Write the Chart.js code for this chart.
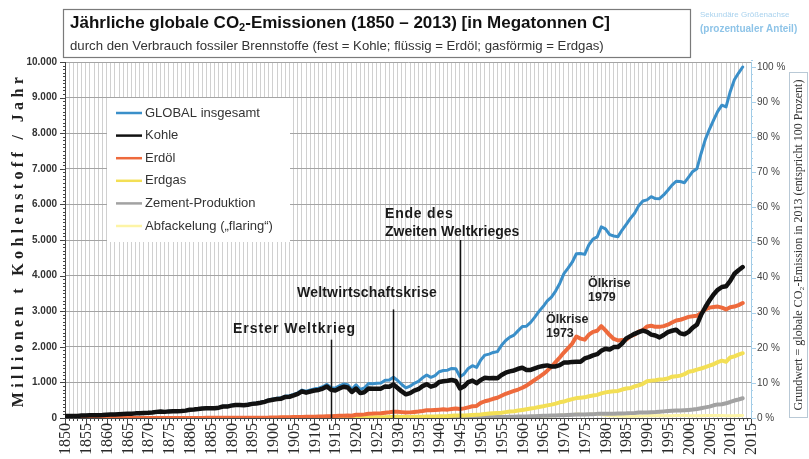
<!DOCTYPE html>
<html>
<head>
<meta charset="utf-8">
<script src="https://cdn.jsdelivr.net/npm/chart.js@4.4.1/dist/chart.umd.min.js"></script>
<style>
  html, body { margin: 0; padding: 0; background: #fff; }
  #wrap { width: 809px; height: 459px; }
</style>
</head>
<body>
<div id="wrap"><canvas id="chart" width="809" height="459"></canvas></div>
<script>
// years 1850 .. 2013
const years = Array.from({ length: 164 }, (_, i) => 1850 + i);

// Megatonnen Kohlenstoff pro Jahr
const globalTotal = [
  54, 54, 57, 59, 69, 71, 76, 77, 78, 83,
  91, 95, 97, 104, 112, 119, 122, 130, 135, 142,
  147, 156, 173, 184, 174, 188, 191, 194, 196, 210,
  236, 243, 256, 272, 275, 277, 281, 295, 327, 327,
  356, 372, 374, 370, 383, 406, 419, 440, 465, 507,
  534, 552, 566, 617, 624, 663, 707, 784, 750, 785,
  819, 836, 879, 943, 850, 838, 901, 955, 936, 806,
  932, 803, 845, 970, 963, 975, 983, 1062, 1065, 1145,
  1053, 940, 847, 893, 973, 1027, 1130, 1209, 1142, 1192,
  1299, 1334, 1342, 1391, 1383, 1160, 1238, 1392, 1469, 1419,
  1630, 1767, 1795, 1841, 1865, 2042, 2177, 2270, 2330, 2454,
  2569, 2580, 2686, 2833, 2995, 3130, 3288, 3393, 3566, 3780,
  4053, 4208, 4376, 4614, 4623, 4596, 4864, 5026, 5087, 5369,
  5315, 5152, 5113, 5094, 5280, 5439, 5607, 5752, 5965, 6097,
  6127, 6217, 6164, 6162, 6266, 6398, 6542, 6651, 6643, 6610,
  6765, 6927, 7003, 7431, 7819, 8110, 8365, 8611, 8787, 8740,
  9167, 9500, 9690, 9860
];

const coal = [
  54, 54, 57, 59, 69, 71, 76, 77, 78, 83,
  91, 95, 97, 104, 112, 119, 122, 130, 135, 142,
  146, 155, 172, 182, 172, 186, 189, 192, 194, 207,
  233, 240, 253, 269, 271, 273, 276, 290, 322, 321,
  348, 364, 365, 361, 374, 397, 409, 429, 454, 493,
  515, 532, 543, 592, 597, 633, 676, 749, 712, 745,
  774, 789, 828, 887, 790, 774, 831, 878, 857, 731,
  827, 700, 725, 830, 820, 822, 825, 888, 876, 940,
  845, 745, 665, 700, 768, 808, 895, 950, 880, 915,
  1010, 1030, 1045, 1070, 1040, 830, 890, 1010, 1050, 980,
  1070, 1129, 1119, 1125, 1116, 1208, 1273, 1309, 1336, 1382,
  1410, 1349, 1351, 1396, 1435, 1460, 1478, 1448, 1448, 1486,
  1556, 1559, 1576, 1581, 1579, 1673, 1710, 1760, 1793, 1887,
  1947, 1921, 1992, 1995, 2094, 2237, 2300, 2364, 2414, 2457,
  2419, 2343, 2318, 2265, 2331, 2414, 2451, 2480, 2376, 2352,
  2420, 2540, 2620, 2900, 3110, 3300, 3470, 3600, 3680, 3700,
  3850, 4050, 4150, 4240
];

const oil = [
  0, 0, 0, 0, 0, 0, 0, 0, 0, 0,
  0, 0, 0, 0, 0, 0, 0, 0, 0, 0,
  1, 1, 1, 2, 2, 2, 2, 2, 2, 3,
  3, 3, 3, 3, 4, 4, 5, 5, 5, 6,
  6, 6, 7, 7, 7, 7, 8, 9, 9, 11,
  16, 17, 19, 21, 23, 25, 26, 29, 32, 34,
  38, 40, 43, 48, 52, 55, 60, 66, 68, 64,
  92, 90, 102, 120, 123, 130, 135, 148, 160, 175,
  175, 165, 152, 158, 170, 180, 195, 215, 215, 225,
  235, 245, 235, 250, 265, 255, 270, 300, 330, 340,
  423, 470, 500, 540, 570, 625, 680, 720, 760, 800,
  849, 910, 990, 1070, 1150, 1230, 1330, 1440, 1570, 1700,
  1839, 1960, 2090, 2290, 2230, 2200, 2340, 2420, 2450, 2580,
  2460, 2330, 2220, 2180, 2190, 2200, 2300, 2340, 2430, 2470,
  2570, 2590, 2560, 2560, 2580, 2620, 2680, 2740, 2760, 2800,
  2840, 2860, 2870, 2950, 3050, 3100, 3120, 3130, 3100, 3050,
  3110, 3130, 3170, 3230
];

const gas = [
  0, 0, 0, 0, 0, 0, 0, 0, 0, 0,
  0, 0, 0, 0, 0, 0, 0, 0, 0, 0,
  0, 0, 0, 0, 0, 0, 0, 0, 0, 0,
  0, 0, 0, 0, 0, 1, 1, 1, 1, 1,
  2, 2, 2, 2, 2, 2, 3, 3, 3, 3,
  3, 3, 4, 4, 4, 5, 5, 6, 6, 6,
  7, 7, 8, 8, 8, 9, 10, 11, 11, 11,
  12, 12, 14, 16, 18, 20, 22, 24, 26, 30,
  32, 30, 29, 30, 32, 35, 38, 42, 42, 45,
  48, 52, 55, 62, 68, 72, 72, 78, 85, 90,
  97, 115, 125, 132, 140, 150, 165, 180, 190, 210,
  227, 245, 265, 285, 310, 330, 355, 375, 405, 440,
  462, 500, 530, 560, 570, 580, 610, 630, 650, 690,
  720, 740, 750, 760, 800, 830, 840, 890, 920, 960,
  1030, 1050, 1060, 1080, 1090, 1110, 1160, 1170, 1190, 1230,
  1300, 1320, 1360, 1390, 1430, 1470, 1510, 1570, 1610, 1580,
  1700, 1730, 1780, 1820
];

const cement = [
  0, 0, 0, 0, 0, 0, 0, 0, 0, 0,
  0, 0, 0, 0, 0, 0, 0, 0, 0, 0,
  0, 0, 0, 0, 0, 0, 0, 0, 0, 0,
  0, 0, 0, 0, 0, 0, 0, 0, 0, 0,
  0, 0, 0, 0, 0, 0, 0, 0, 0, 0,
  0, 0, 0, 0, 0, 0, 0, 0, 0, 0,
  0, 0, 0, 0, 0, 0, 0, 0, 0, 0,
  0, 0, 0, 0, 0, 0, 0, 0, 10, 10,
  10, 9, 8, 8, 9, 10, 11, 12, 12, 13,
  13, 13, 13, 12, 11, 10, 12, 14, 16, 17,
  18, 20, 22, 24, 26, 28, 31, 33, 36, 40,
  43, 45, 49, 52, 57, 60, 64, 67, 71, 74,
  78, 84, 89, 95, 96, 95, 103, 108, 116, 119,
  120, 121, 121, 125, 128, 131, 137, 143, 152, 156,
  157, 161, 167, 176, 186, 197, 203, 209, 209, 217,
  226, 237, 252, 276, 298, 320, 356, 382, 387, 413,
  450, 490, 520, 555
];

const flaring = [
  0, 0, 0, 0, 0, 0, 0, 0, 0, 0,
  0, 0, 0, 0, 0, 0, 0, 0, 0, 0,
  0, 0, 0, 0, 0, 0, 0, 0, 0, 0,
  0, 0, 0, 0, 0, 0, 0, 0, 0, 0,
  0, 0, 0, 0, 0, 0, 0, 0, 0, 0,
  0, 0, 0, 0, 0, 0, 0, 0, 0, 0,
  0, 0, 0, 0, 0, 0, 0, 0, 0, 0,
  0, 0, 0, 0, 0, 0, 0, 0, 0, 0,
  0, 0, 0, 0, 0, 0, 0, 0, 0, 0,
  0, 0, 0, 0, 0, 0, 0, 0, 0, 0,
  23, 24, 26, 27, 27, 31, 32, 35, 35, 36,
  39, 42, 44, 47, 51, 55, 60, 66, 73, 80,
  87, 88, 95, 110, 107, 92, 108, 104, 106, 98,
  78, 66, 64, 58, 57, 49, 51, 50, 54, 57,
  60, 68, 66, 69, 66, 64, 66, 70, 68, 75,
  61, 62, 60, 66, 69, 71, 68, 71, 70, 66,
  63, 66, 70, 71
];

const seriesNames = ['GLOBAL insgesamt', 'Kohle', 'Erdöl', 'Erdgas', 'Zement-Produktion', 'Abfackelung (\u201Eflaring\u201C)'];
const percentTicks = [0, 10, 20, 30, 40, 50, 60, 70, 80, 90, 100];

// events marked on the chart: year, label lines
const events = [
  { year: 1914, lines: ['Erster Weltkrieg'] },
  { year: 1929, lines: ['Weltwirtschaftskrise'] },
  { year: 1945, lines: ['Ende des', 'Zweiten Weltkrieges'] },
];

const SANS = '"Liberation Sans", Arial, sans-serif';
const SERIF = '"Liberation Serif", "Times New Roman", serif';

const fmt = (v) => String(v).replace(/\B(?=(\d{3})+(?!\d))/g, '.');

const line = (label, values, color, width, order) => ({
  label,
  data: values.map((v, i) => ({ x: years[i], y: v })),
  borderColor: color,
  backgroundColor: color,
  borderWidth: width,
  pointRadius: 0,
  tension: 0,
  order,
  borderJoinStyle: 'round',
  borderCapStyle: 'round',
});

function txt(ctx, s, x, y, font, color, align, spacing) {
  ctx.font = font;
  ctx.fillStyle = color;
  ctx.textAlign = align || 'left';
  ctx.letterSpacing = (spacing || 0) + 'px';
  ctx.fillText(s, x, y);
  ctx.letterSpacing = '0px';
}

const decor = {
  id: 'decor',
  beforeDraw(chart) {
    const ctx = chart.ctx;
    ctx.save();
    ctx.fillStyle = '#fff';
    ctx.fillRect(0, 0, chart.width, chart.height);
    ctx.restore();
  },
  afterDraw(chart) {
    const ctx = chart.ctx;
    const { x, y, y2 } = chart.scales;
    const a = chart.chartArea;
    ctx.save();
    ctx.textBaseline = 'middle';

    // x ticks, every year, longer every 5
    ctx.strokeStyle = '#444';
    ctx.lineWidth = 1;
    for (let yr = 1850; yr <= 2015; yr++) {
      const px = Math.round(x.getPixelForValue(yr)) + 0.5;
      ctx.beginPath();
      ctx.moveTo(px, a.bottom);
      ctx.lineTo(px, a.bottom + (yr % 5 === 0 ? 6 : 3));
      ctx.stroke();
    }
    // x labels, rotated, read from bottom to top
    for (let yr = 1850; yr <= 2015; yr += 5) {
      const px = x.getPixelForValue(yr);
      ctx.save();
      ctx.translate(px + 1, a.bottom + 5);
      ctx.rotate(-Math.PI / 2);
      txt(ctx, String(yr), 0, 0, '16px ' + SERIF, '#2a2a2a', 'right');
      ctx.restore();
    }

    // left y minor ticks
    for (let v = 0; v <= 10000; v += 100) {
      const py = Math.round(y.getPixelForValue(v)) + 0.5;
      ctx.beginPath();
      ctx.moveTo(a.left, py);
      ctx.lineTo(a.left - (v % 1000 === 0 ? 5 : 2), py);
      ctx.stroke();
    }
    // right y ticks
    ctx.strokeStyle = '#a9d0ea';
    for (let v = 0; v <= 102; v += 2) {
      const py = Math.round(y2.getPixelForValue(v)) + 0.5;
      ctx.beginPath();
      ctx.moveTo(a.right, py);
      ctx.lineTo(a.right + (v % 10 === 0 ? 5 : 2), py);
      ctx.stroke();
    }

    // left axis title
    ctx.save();
    ctx.translate(19, (a.top + a.bottom) / 2);
    ctx.rotate(-Math.PI / 2);
    const yTitle = 'Millionen t Kohlenstoff / Jahr';
    ctx.font = 'bold 16px ' + SERIF;
    const w0 = ctx.measureText(yTitle).width;
    const sp = (330 - w0) / (yTitle.length - 1);
    txt(ctx, yTitle, 0, 0, 'bold 16px ' + SERIF, '#222', 'center', sp);
    ctx.restore();

    // right axis title in a box
    ctx.strokeStyle = '#b9c9d6';
    ctx.lineWidth = 1;
    ctx.strokeRect(789.5, 72.5, 18, a.bottom - 73);
    ctx.save();
    ctx.translate(799, (72 + a.bottom) / 2);
    ctx.rotate(-Math.PI / 2);
    txt(ctx, 'Grundwert = globale CO\u2082-Emission in 2013 (entspricht 100 Prozent)', 0, 0, '12px ' + SERIF, '#333', 'center');
    ctx.restore();

    txt(ctx, 'Sekundäre Größenachse', 700, 15, '8px ' + SANS, '#a9d2ee');
    txt(ctx, '(prozentualer Anteil)', 700, 29, 'bold 10px ' + SANS, '#8ec4e8');

    // title box
    ctx.fillStyle = '#fff';
    ctx.fillRect(63, 9, 627, 49);
    ctx.strokeStyle = '#7a7a7a';
    ctx.lineWidth = 1.2;
    ctx.strokeRect(63.5, 9.5, 627, 48);
    const tFont = 'bold 17px ' + SANS;
    const p1 = 'Jährliche globale CO';
    const p2 = '-Emissionen (1850 \u2013 2013) [in Megatonnen C]';
    txt(ctx, p1, 70, 23, tFont, '#111');
    let tx = 70 + ctx.measureText(p1).width;
    txt(ctx, '2', tx, 28, 'bold 11px ' + SANS, '#111');
    tx += ctx.measureText('2').width;
    txt(ctx, p2, tx, 23, tFont, '#111');
    txt(ctx, 'durch den Verbrauch fossiler Brennstoffe (fest = Kohle; flüssig = Erdöl; gasförmig = Erdgas)',
      70, 46, '13.2px ' + SANS, '#333');

    // legend box
    ctx.fillStyle = '#fff';
    ctx.fillRect(107, 98, 183, 144);
    chart.data.datasets.forEach((ds, i) => {
      const ly = 113 + i * 22.6;
      ctx.strokeStyle = ds.borderColor;
      ctx.lineWidth = 2.5;
      ctx.beginPath();
      ctx.moveTo(116, ly);
      ctx.lineTo(142, ly);
      ctx.stroke();
      txt(ctx, ds.label, 145, ly, '13px ' + SANS, '#333');
    });

    // event markers
    const tops = [2200, 3050, 5000];
    ctx.strokeStyle = '#111';
    ctx.lineWidth = 1.5;
    events.forEach((ev, i) => {
      const px = Math.round(x.getPixelForValue(ev.year)) + 0.5;
      ctx.beginPath();
      ctx.moveTo(px, y.getPixelForValue(tops[i]));
      ctx.lineTo(px, a.bottom);
      ctx.stroke();
    });
    const evFont = 'bold 14px ' + SANS;
    txt(ctx, events[0].lines[0], 233, 329, evFont, '#1a1a1a', 'left', 1);
    txt(ctx, events[1].lines[0], 297, 293, evFont, '#1a1a1a', 'left', 0.2);
    txt(ctx, events[2].lines[0], 385, 214, evFont, '#1a1a1a', 'left', 0.8);
    txt(ctx, events[2].lines[1], 385, 232, evFont, '#1a1a1a', 'left', 0);

    const okFont = 'bold 12.5px ' + SANS;
    txt(ctx, 'Ölkrise', 546, 320, okFont, '#222');
    txt(ctx, '1973', 546, 334, okFont, '#222');
    txt(ctx, 'Ölkrise', 588, 284, okFont, '#222');
    txt(ctx, '1979', 588, 298, okFont, '#222');

    ctx.restore();
  }
};

new Chart(document.getElementById('chart'), {
  type: 'line',
  data: {
    datasets: [
      line(seriesNames[0], globalTotal, '#3a8fc9', 3, 5),
      line(seriesNames[1], coal, '#111111', 4.5, 0),
      line(seriesNames[2], oil, '#ee6a3c', 4, 1),
      line(seriesNames[3], gas, '#f3df55', 4, 2),
      line(seriesNames[4], cement, '#a2a2a2', 4, 3),
      line(seriesNames[5], flaring, '#fdf4a6', 3, 4),
    ],
  },
  options: {
    responsive: false,
    animation: false,
    devicePixelRatio: 1,
    layout: { padding: { left: 23, right: 0, top: 62, bottom: 0 } },
    plugins: { legend: { display: false }, tooltip: { enabled: false } },
    scales: {
      x: {
        type: 'linear',
        min: 1850,
        max: 2015,
        ticks: { display: false, stepSize: 1, maxTicksLimit: 400 },
        grid: { color: '#d0d0d0', drawTicks: false },
        border: { color: '#444' },
        afterFit: (s) => { s.height = 41; },
      },
      y: {
        position: 'left',
        min: 0,
        max: 10000,
        ticks: {
          stepSize: 1000,
          padding: 8,
          color: '#333',
          font: { family: SANS, size: 10, weight: 'bold' },
          callback: (v) => fmt(v),
        },
        grid: { color: '#a4a4a4', drawTicks: false },
        border: { color: '#444' },
        afterFit: (s) => { s.width = 42; },
      },
      y2: {
        position: 'right',
        min: 0,
        max: 10000 / globalTotal[globalTotal.length - 1] * 100,
        ticks: {
          padding: 6,
          color: '#444',
          font: { family: SANS, size: 10 },
          callback: (v) => v + ' %',
        },
        afterBuildTicks: (s) => { s.ticks = percentTicks.map((v) => ({ value: v })); },
        grid: { drawOnChartArea: false, drawTicks: false },
        border: { color: '#9fcbe6' },
        afterFit: (s) => { s.width = 58; },
      },
    },
  },
  plugins: [decor],
});
</script>
</body>
</html>
